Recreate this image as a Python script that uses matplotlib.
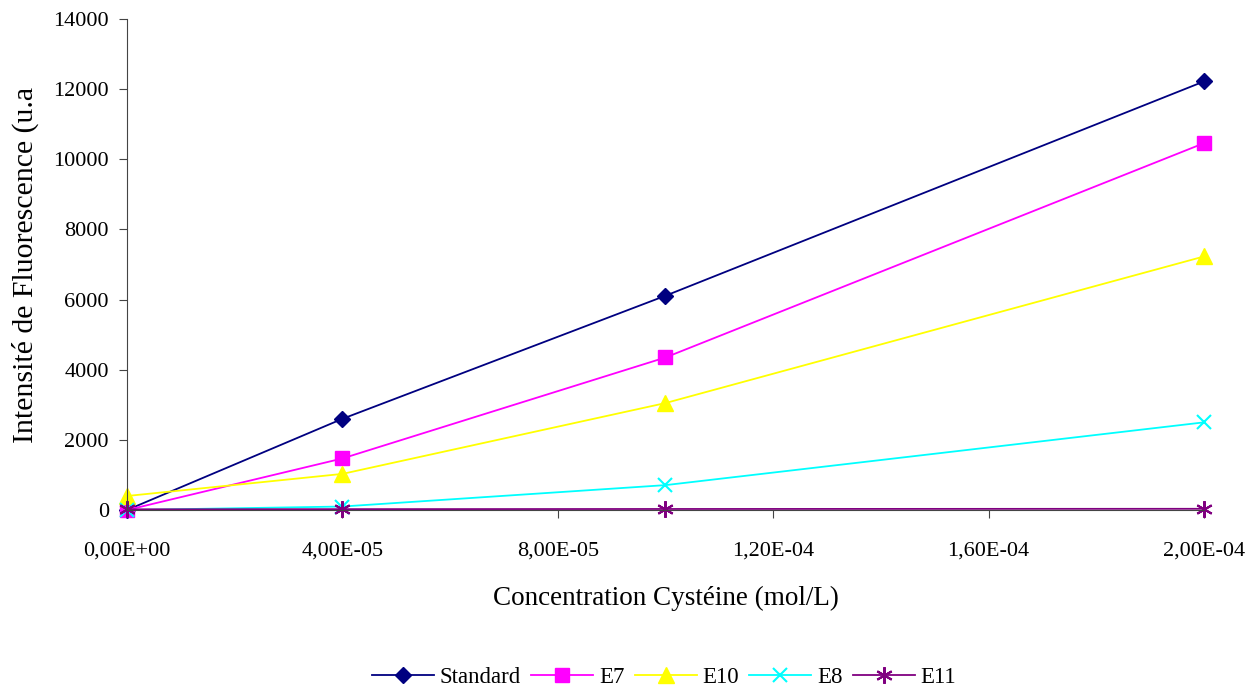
import matplotlib
matplotlib.use("Agg")
import matplotlib.pyplot as plt
from matplotlib.ticker import FixedLocator

plt.rcParams['font.family'] = ['Liberation Serif', 'DejaVu Serif']

x = [0.0, 4e-5, 1e-4, 2e-4]
series_names = ["Standard", "E7", "E10", "E8", "E11"]
standard = [0, 2600, 6110, 12220]
e7 = [0, 1470, 4350, 10460]
e10 = [400, 1030, 3050, 7230]
e8 = [0, 100, 710, 2500]
e11 = [20, 25, 30, 35]
xticks = [0, 4e-5, 8e-5, 1.2e-4, 1.6e-4, 2e-4]
xtick_labels = ["0,00E+00", "4,00E-05", "8,00E-05", "1,20E-04", "1,60E-04", "2,00E-04"]
yticks = [0, 2000, 4000, 6000, 8000, 10000, 12000, 14000]

styles = [
    dict(color="#000080", marker="D", ms=8.5),
    dict(color="#FF00FF", marker="s", ms=10),
    dict(color="#FFFF00", marker="^", ms=12),
    dict(color="#00FFFF", marker="x", ms=10, mew=1.5),
    dict(color="#800080", marker=(6, 2, 0), ms=12, mew=1.5),
]

fig = plt.figure(figsize=(12.56, 6.91), dpi=100)
ax = fig.add_axes([0.1011, 0.2619, 0.8575, 0.7106])
for name, ys, st in zip(series_names, [standard, e7, e10, e8, e11], styles):
    ax.plot(x, ys, lw=1.3, label=name, clip_on=False, **st)

ax.set_xlim(0, 2e-4)
ax.set_ylim(0, 14000)
ax.xaxis.set_major_locator(FixedLocator(xticks))
ax.set_xticklabels(xtick_labels)
ax.set_yticks(yticks)
ax.set_yticklabels([str(v) for v in yticks])
for s in ["top", "right"]:
    ax.spines[s].set_visible(False)
for s in ["left", "bottom"]:
    ax.spines[s].set_color("#444444")
ax.tick_params(axis="both", direction="out", length=6, labelsize=16, color="#444444")
ax.tick_params(axis="x", pad=17)
ax.tick_params(axis="y", pad=7)
ax.set_xlabel("Concentration Cystéine (mol/L)", fontsize=19.5, va="center")
ax.set_ylabel("Intensité de Fluorescence (u.a", fontsize=21.5, va="center")
ax.xaxis.set_label_coords(0.5, -0.18)
ax.yaxis.set_label_coords(-0.0948, 0.5)

fig.legend(loc="center", bbox_to_anchor=(0.5287, 1 - 677 / 691), ncol=5, frameon=False,
           fontsize=16.5, handlelength=2.7, columnspacing=0.45, handletextpad=0.25)
fig.savefig("out.png", dpi=100)
